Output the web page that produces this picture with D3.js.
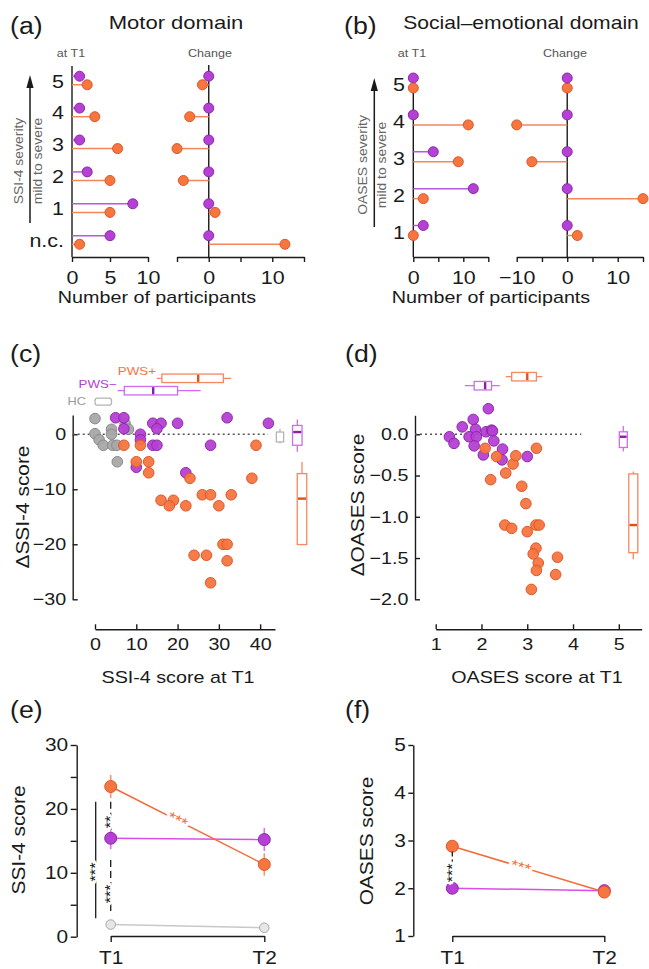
<!DOCTYPE html>
<html><head><meta charset="utf-8">
<script src="https://cdn.jsdelivr.net/npm/d3@7"></script>
<style>body{margin:0;background:#fff}svg{display:block}</style>
</head><body>
<svg id="chart" width="649" height="969"></svg>
<script>
// ---------------- DATA ----------------
// (a) Motor domain – SSI-4 severity categories
const sevCatsA = ["5","4","3","2","1","n.c."];
const motorT1_PWSminus = [1,1,1,2,8,5];
const motorT1_PWSplus  = [2,3,6,5,5,1];
const motorChange_PWSminus = [0,0,0,0,0,0];
const motorChange_PWSplus  = [-1,-3,-5,-4,1,12];
const ticksA1 = [0,5,10];
const ticksA2 = [-5,0,5,10,15];
const labeledA2 = [0,10];
// (b) Social-emotional domain – OASES severity categories
const sevCatsB = ["5","4","3","2","1"];
const socT1_PWSminus = [0,0,4,12,2];
const socT1_PWSplus  = [0,11,9,2,0];
const socChange_PWSminus = [0,0,0,0,0];
const socChange_PWSplus  = [0,-10,-7,15,2];
const ticksB1 = [0,5,10,15];
const labeledB1 = [0,10];
const ticksB2 = [-10,-5,0,5,10,15];
const labeledB2 = [-10,0,10];
// (c) SSI-4 at T1 vs change
const hcC_x = [0,0,1,2,4,4,4.3,5.3,5.4,7.3,8.1];
const hcC_y = [2.85,0.1,-1,-2,0.9,0,-2,-2,-5,1.9,0.9];
const pwsMinusC_x = [5,7,7,11,11,14,16,15,20,32,42,14,15,28,10,22];
const pwsMinusC_y = [3,3,1,0,-1,2,2,1,2,3,2,-2,-2,-2,-6,-7];
const pwsPlusC_x = [7,11,10,13,13,23,39,38,16,19,18,22,26,28,33,30,31,32,24,27,32,28];
const pwsPlusC_y = [-2,-2,-5,-5,-7,-8,-2,-8,-12,-12,-13,-13,-11,-11,-11,-13,-20,-20,-22,-22,-23,-27];
const ticksCx = [0,10,20,30,40];
const ticksCy = [0,-10,-20,-30];
// box stats [min,q1,median,q3,max]
const boxC_T1_HC = [0,0,2,4,4];
const boxC_T1_PWSminus = [5.5,7.1,14.1,20,25.6];
const boxC_T1_PWSplus = [15,16.2,25,31.1,33];
const boxC_d_HC = [-1.7,-1.4,-0.4,0.4,1];
const boxC_d_PWSminus = [-3.2,-2,0.4,1.6,2.7];
const boxC_d_PWSplus = [-20.05,-20.05,-11.7,-7.15,-5.05];
// (d) OASES at T1 vs change
const pwsMinusD_x = [1.3,1.4,1.58,1.82,1.87,1.73,1.89,1.84,2.04,2.1,2.15,2.22,2.24,2.27,2.46,2.45,3.0];
const pwsMinusD_y = [-0.03,-0.11,0.09,0.18,0.06,-0.03,-0.03,-0.14,-0.25,0.03,0.31,0.05,0.04,-0.08,-0.18,-0.31,-0.27];
const pwsPlusD_x = [2.08,2.33,2.2,2.53,2.69,2.75,3.2,2.88,2.97,2.51,2.66,3.0,3.19,3.26,3.19,3.13,3.24,3.2,3.66,3.62,3.09];
const pwsPlusD_y = [-0.17,-0.27,-0.55,-0.47,-0.36,-0.26,-0.17,-0.63,-0.84,-1.1,-1.14,-1.18,-1.1,-1.1,-1.38,-1.45,-1.56,-1.65,-1.49,-1.7,-1.88];
const ticksDx = [1,2,3,4,5];
const ticksDy = [0,-0.5,-1,-1.5,-2];
const boxD_T1_PWSminus = [1.64,1.84,2.08,2.22,2.4];
const boxD_T1_PWSplus = [2.53,2.66,3.0,3.2,3.33];
const boxD_d_PWSminus = [-0.21,-0.16,-0.03,0.03,0.1];
const boxD_d_PWSplus = [-1.515,-1.435,-1.1,-0.48,-0.45];
// (e) SSI-4 score T1/T2 mean ± SE
const timepoints = ["T1","T2"];
const ssiPWSplus = [23.5,11.3], ssiPWSplusErr = [1.8,1.75];
const ssiPWSminus = [15.4,15.2], ssiPWSminusErr = [1.7,1.8];
const ssiHC = [1.9,1.4], ssiHCErr = [0.4,0.3];
const ticksEy = [0,5,10,15,20,25,30];
// significance: vertical comparisons at T1 [from, to, label]
const sigE_long = [21.1,2.9,"***"];
const sigE_dash = [[21.1,16.7,"**"],[12.0,3.9,"***"]];
const sigE_time = "***";
// (f) OASES score T1/T2
const oasesPWSplus = [2.88,1.92];
const oasesPWSminus = [2.0,1.95];
const ticksFy = [1,2,3,4,5];
const sigF_dash = [[2.77,2.21,"***"]];
const sigF_time = "***";

// ---------------- STYLE ----------------
const FONT = "'Liberation Sans', Arial, Helvetica, sans-serif";
const SX = 1.16;
const INK = "#1a1a1a";
const OR = {fill:"#f6763f", stroke:"#e0562a", line:"#f4865c"};
const PU = {fill:"#b440d4", stroke:"#8e28ae", line:"#b85ad4"};
const GR = {fill:"#a8a8a8", stroke:"#8a8a8a", line:"#c4c4c4"};

const svg = d3.select("#chart");
const intFmt = d3.format("d");

function label(x, y, str, size, o = {}) {
  return svg.append("text")
    .attr("transform", `translate(${x},${y}) rotate(${o.rot || 0}) scale(${SX},1)`)
    .attr("font-size", size)
    .attr("font-family", FONT)
    .attr("font-weight", 400)
    .attr("text-anchor", o.anchor || "middle")
    .attr("fill", o.fill || INK)
    .text(str);
}
function styleAxis(g, size) {
  g.select(".domain").attr("stroke", INK).attr("stroke-width", 1.4);
  g.selectAll(".tick line").attr("stroke", INK).attr("stroke-width", 1.4);
  g.selectAll(".tick text").attr("font-size", size).attr("font-family", FONT).attr("font-weight", 400).attr("fill", INK)
    .attr("transform", `scale(${SX},1)`)
    .attr("x", function(){ const v = d3.select(this).attr("x"); return v === null ? 0 : (+v) / SX; });
}
function vline(x, y1, y2, col = INK, w = 1.4, dash = null) {
  const l = svg.append("line").attr("x1", x).attr("x2", x).attr("y1", y1).attr("y2", y2)
    .attr("stroke", col).attr("stroke-width", w);
  if (dash) l.attr("stroke-dasharray", dash);
  return l;
}
function dots(xs, ys, xv, yv, c, r) {
  svg.append("g").selectAll("circle").data(xv.map((x, i) => [x, yv[i]])).join("circle")
    .attr("cx", d => xs(d[0])).attr("cy", d => ys(d[1])).attr("r", r)
    .attr("fill", c.fill).attr("stroke", c.stroke).attr("stroke-width", 1).attr("fill-opacity", 0.95);
}
function lolli(xs, ys, cats, vals, off, c, r) {
  const g = svg.append("g");
  const d = cats.map((k, i) => ({k, v: vals[i]}));
  g.selectAll("line").data(d).join("line")
    .attr("x1", xs(0)).attr("x2", e => xs(e.v))
    .attr("y1", e => ys(e.k) + off).attr("y2", e => ys(e.k) + off)
    .attr("stroke", c.line).attr("stroke-width", 1.5);
  g.selectAll("circle").data(d).join("circle")
    .attr("cx", e => xs(e.v)).attr("cy", e => ys(e.k) + off).attr("r", r)
    .attr("fill", c.fill).attr("stroke", c.stroke).attr("stroke-width", 1);
}
function hbox(xs, yc, s, h, col, med, rounded) {
  const g = svg.append("g");
  g.append("line").attr("x1", xs(s[0])).attr("x2", xs(s[4])).attr("y1", yc).attr("y2", yc).attr("stroke", col).attr("stroke-width", 1.3);
  g.append("rect").attr("x", xs(s[1])).attr("width", xs(s[3]) - xs(s[1])).attr("y", yc - h/2).attr("height", h)
    .attr("rx", rounded ? 2.5 : 0)
    .attr("fill", "#fff").attr("stroke", col).attr("stroke-width", 1.3);
  if (med) g.append("line").attr("x1", xs(s[2])).attr("x2", xs(s[2])).attr("y1", yc - h/2 + 0.7).attr("y2", yc + h/2 - 0.7).attr("stroke", med).attr("stroke-width", 2.4);
}
function vbox(ys, xc, s, w, col, med) {
  const g = svg.append("g");
  g.append("line").attr("x1", xc).attr("x2", xc).attr("y1", ys(s[0])).attr("y2", ys(s[4])).attr("stroke", col).attr("stroke-width", 1.3);
  g.append("rect").attr("x", xc - w/2).attr("width", w).attr("y", ys(s[3])).attr("height", ys(s[1]) - ys(s[3]))
    .attr("fill", "#fff").attr("stroke", col).attr("stroke-width", 1.3);
  if (med) g.append("line").attr("x1", xc - w/2 + 0.7).attr("x2", xc + w/2 - 0.7).attr("y1", ys(s[2])).attr("y2", ys(s[2])).attr("stroke", med).attr("stroke-width", 2.4);
}
function severityArrow(x, yTop, yBot, t1, t2, yc) {
  vline(x, yTop + 10, yBot, INK, 1.5);
  svg.append("path").attr("d", `M${x},${yTop} L${x-3.6},${yTop+13} L${x+3.6},${yTop+13} Z`).attr("fill", INK);
  label(x - 7.5, yc, t1, 12, {rot: -90, fill: "#666"});
  label(x + 11.5, yc, t2, 12, {rot: -90, fill: "#666"});
}

// ---------------- PANEL (a) ----------------
label(10, 33.5, "(a)", 23, {anchor: "start"});
label(176, 28.5, "Motor domain", 19);
label(71, 57, "at T1", 10.8, {fill: "#555"});
label(210, 57, "Change", 10.8, {fill: "#555"});
const yA = d3.scalePoint().domain(sevCatsA).range([80.5, 240]);
const xA1 = d3.scaleLinear().domain([0, 10]).range([72, 148]);
const xA2 = d3.scaleLinear().domain([-5, 15]).range([177, 304]);
styleAxis(svg.append("g").attr("transform", "translate(0,257)")
  .call(d3.axisBottom(xA1).tickValues(ticksA1).tickFormat(intFmt).tickSize(5).tickSizeOuter(0).tickPadding(9)), 18.5);
styleAxis(svg.append("g").attr("transform", "translate(0,257)")
  .call(d3.axisBottom(xA2).tickValues(ticksA2).tickFormat(d => labeledA2.includes(d) ? intFmt(d) : "").tickSize(5).tickSizeOuter(0).tickPadding(9)), 18.5);
vline(xA1(0), 66, 257);
vline(xA2(0), 65, 257);
sevCatsA.forEach(c => label(64, yA(c) + 7, c, 18.5, {anchor: "end"}));
lolli(xA1, yA, sevCatsA, motorT1_PWSminus, -4.3, PU, 5);
lolli(xA1, yA, sevCatsA, motorT1_PWSplus, 4.3, OR, 5);
lolli(xA2, yA, sevCatsA, motorChange_PWSplus, 4.3, OR, 5);
lolli(xA2, yA, sevCatsA, motorChange_PWSminus, -4.3, PU, 5);
severityArrow(30, 75, 223, "SSI-4 severity", "mild to severe", 161);
label(157, 303, "Number of participants", 17);

// ---------------- PANEL (b) ----------------
label(344, 33.5, "(b)", 23, {anchor: "start"});
label(521, 28.5, "Social\u2013emotional domain", 18.2);
label(412, 57, "at T1", 10.8, {fill: "#555"});
label(565, 57, "Change", 10.8, {fill: "#555"});
const yB = d3.scalePoint().domain(sevCatsB).range([83, 230.5]);
const xB1 = d3.scaleLinear().domain([0, 15]).range([413.3, 488.3]);
const xB2 = d3.scaleLinear().domain([-10, 15]).range([516.7, 643]);
styleAxis(svg.append("g").attr("transform", "translate(0,257)")
  .call(d3.axisBottom(xB1).tickValues(ticksB1).tickFormat(d => labeledB1.includes(d) ? intFmt(d) : "").tickSize(5).tickSizeOuter(0).tickPadding(9)), 18.5);
styleAxis(svg.append("g").attr("transform", "translate(0,257)")
  .call(d3.axisBottom(xB2).tickValues(ticksB2).tickFormat(d => labeledB2.includes(d) ? intFmt(d) : "").tickSize(5).tickSizeOuter(0).tickPadding(9)), 18.5);
vline(xB1(0), 75, 257);
vline(xB2(0), 75, 257);
sevCatsB.forEach(c => label(405, yB(c) + 8, c, 18.5, {anchor: "end"}));
lolli(xB1, yB, sevCatsB, socT1_PWSminus, -5, PU, 5);
lolli(xB1, yB, sevCatsB, socT1_PWSplus, 5, OR, 5);
lolli(xB2, yB, sevCatsB, socChange_PWSplus, 5, OR, 5);
lolli(xB2, yB, sevCatsB, socChange_PWSminus, -5, PU, 5);
severityArrow(374.3, 78, 227, "OASES severity", "mild to severe", 165);
label(491, 303, "Number of participants", 17);

// ---------------- PANEL (c) ----------------
label(10, 362, "(c)", 23, {anchor: "start"});
const xC = d3.scaleLinear().domain([0, 43.6]).range([95, 275]);
const yC = d3.scaleLinear().domain([-30, 3.5]).range([599.3, 415]);
styleAxis(svg.append("g").attr("transform", "translate(72.7,0)")
  .call(d3.axisLeft(yC).tickValues(ticksCy).tickFormat(intFmt).tickSizeInner(-5).tickSizeOuter(0).tickPadding(6.5)), 17);
styleAxis(svg.append("g").attr("transform", "translate(0,629.3)")
  .call(d3.axisBottom(xC).tickValues(ticksCx).tickFormat(intFmt).tickSizeInner(-5).tickSizeOuter(0).tickPadding(9)), 17);
svg.append("line").attr("x1", 72.7).attr("x2", xC(41.9)).attr("y1", yC(0)).attr("y2", yC(0))
  .attr("stroke", "#555").attr("stroke-width", 1.6).attr("stroke-dasharray", "2,3");
dots(xC, yC, hcC_x, hcC_y, GR, 5.3);
dots(xC, yC, pwsMinusC_x, pwsMinusC_y, PU, 5.3);
dots(xC, yC, pwsPlusC_x, pwsPlusC_y, OR, 5.3);
const boxRowC = d3.scaleOrdinal().domain(["PWS+","PWS\u2212","HC"]).range([378.3, 390.7, 401.7]);
hbox(xC, boxRowC("PWS+"), boxC_T1_PWSplus, 8.5, "#f7875f", "#e2501c");
hbox(xC, boxRowC("PWS\u2212"), boxC_T1_PWSminus, 8.5, "#cf6bef", "#8a1fa8");
hbox(xC, boxRowC("HC"), boxC_T1_HC, 7, "#b4b4b4", null, true);
label(xC(boxC_T1_PWSplus[0]) - 1, 375, "PWS+", 11.5, {anchor: "end", fill: "#f4743b"});
label(xC(boxC_T1_PWSminus[0]) - 1, 388, "PWS\u2212", 11.5, {anchor: "end", fill: "#b440d4"});
label(xC(boxC_T1_HC[0]) - 9, 405, "HC", 11, {anchor: "end", fill: "#9a9a9a"});
const boxColC = d3.scaleOrdinal().domain(["HC","PWS\u2212","PWS+"]).range([280, 297.3, 302]);
vbox(yC, boxColC("HC"), boxC_d_HC, 7.3, "#b4b4b4", null);
vbox(yC, boxColC("PWS\u2212"), boxC_d_PWSminus, 9.5, "#cf6bef", "#8a1fa8");
vbox(yC, boxColC("PWS+"), boxC_d_PWSplus, 9.5, "#f7875f", "#e2501c");
label(29, 507, "\u0394SSI-4 score", 18, {rot: -90});
label(178, 683, "SSI-4 score at T1", 17);

// ---------------- PANEL (d) ----------------
label(345, 362, "(d)", 23, {anchor: "start"});
const xD = d3.scaleLinear().domain([1, 5.5]).range([435.7, 641.7]);
const yD = d3.scaleLinear().domain([-2, 0.23]).range([599.3, 415.3]);
styleAxis(svg.append("g").attr("transform", "translate(415,0)")
  .call(d3.axisLeft(yD).tickValues(ticksDy).tickFormat(d3.format(".1f")).tickSizeInner(-5).tickSizeOuter(0).tickPadding(6.5)), 17);
styleAxis(svg.append("g").attr("transform", "translate(0,629.3)")
  .call(d3.axisBottom(xD).tickValues(ticksDx).tickFormat(intFmt).tickSizeInner(-5).tickSizeOuter(0).tickPadding(9)), 17);
svg.append("line").attr("x1", 415).attr("x2", xD(4.18)).attr("y1", yD(0)).attr("y2", yD(0))
  .attr("stroke", "#555").attr("stroke-width", 1.6).attr("stroke-dasharray", "2,3");
dots(xD, yD, pwsMinusD_x, pwsMinusD_y, PU, 5.3);
dots(xD, yD, pwsPlusD_x, pwsPlusD_y, OR, 5.3);
const boxRowD = d3.scaleOrdinal().domain(["PWS+","PWS\u2212"]).range([376.7, 385.7]);
hbox(xD, boxRowD("PWS+"), boxD_T1_PWSplus, 8.5, "#f7875f", "#e2501c");
hbox(xD, boxRowD("PWS\u2212"), boxD_T1_PWSminus, 8.5, "#cf6bef", "#8a1fa8");
const boxColD = d3.scaleOrdinal().domain(["PWS\u2212","PWS+"]).range([623.3, 633.3]);
vbox(yD, boxColD("PWS\u2212"), boxD_d_PWSminus, 8, "#cf6bef", "#8a1fa8");
vbox(yD, boxColD("PWS+"), boxD_d_PWSplus, 9, "#f7875f", "#e2501c");
label(363.5, 505, "\u0394OASES score", 18, {rot: -90});
label(537, 683, "OASES score at T1", 17);

// ---------------- PANEL (e) ----------------
label(10, 718, "(e)", 23, {anchor: "start"});
const xE = d3.scalePoint().domain(timepoints).range([110.7, 264.3]);
const yE = d3.scaleLinear().domain([0, 30]).range([936.7, 745]);
styleAxis(svg.append("g").attr("transform", "translate(76.7,0)")
  .call(d3.axisLeft(yE).tickValues(ticksEy).tickFormat(d => d % 10 === 0 ? intFmt(d) : "").tickSize(6).tickSizeOuter(0).tickPadding(2.5)), 18);
styleAxis(svg.append("g").attr("transform", "translate(0,936)")
  .call(d3.axisBottom(xE).tickSize(6).tickSizeOuter(0).tickPadding(9)), 18);
label(25, 840, "SSI-4 score", 18, {rot: -90});

function series(xs, ys, vals, errs, lineCol, errCol, c, r) {
  const g = svg.append("g");
  const d = timepoints.map((t, i) => ({t, v: vals[i], e: errs ? errs[i] : 0}));
  g.append("path").datum(d).attr("d", d3.line().x(e => xs(e.t)).y(e => ys(e.v)))
    .attr("fill", "none").attr("stroke", lineCol).attr("stroke-width", 1.5);
  if (errs) g.selectAll("line.err").data(d).join("line").attr("class", "err")
    .attr("x1", e => xs(e.t)).attr("x2", e => xs(e.t))
    .attr("y1", e => ys(e.v - e.e)).attr("y2", e => ys(e.v + e.e))
    .attr("stroke", errCol).attr("stroke-width", 1.6);
  g.selectAll("circle").data(d).join("circle")
    .attr("cx", e => xs(e.t)).attr("cy", e => ys(e.v)).attr("r", r)
    .attr("fill", c.fill).attr("stroke", c.stroke).attr("stroke-width", 1);
}
series(xE, yE, ssiHC, ssiHCErr, "#c8c8c8", "#c8c8c8", {fill: "#e6e6e6", stroke: "#a8a8a8"}, 4.8);
series(xE, yE, ssiPWSminus, ssiPWSminusErr, "#d94ee9", "#da70ea", PU, 6);
series(xE, yE, ssiPWSplus, ssiPWSplusErr, "#f26b38", "#f7956c", OR, 6);

function starsV(x, y, str) {
  label(x + 4.5, y, str, 14, {rot: -90, fill: "#111"}).attr("stroke", "#fff").attr("stroke-width", 4)
    .attr("paint-order", "stroke");
}
function starsAlong(xs, ys, vals, frac, str) {
  const x0 = xs(timepoints[0]), x1 = xs(timepoints[1]), y0 = ys(vals[0]), y1 = ys(vals[1]);
  const ang = Math.atan2(y1 - y0, x1 - x0) * 180 / Math.PI;
  label(x0 + (x1 - x0) * frac, y0 + (y1 - y0) * frac + 5.5, str, 15, {rot: ang, fill: "#f26b38"})
    .attr("stroke", "#fff").attr("stroke-width", 4).attr("paint-order", "stroke");
}
// long comparison line PWS+ vs HC
vline(xE("T1") - 15, yE(sigE_long[0]), yE(sigE_long[1]), INK, 1.3);
starsV(xE("T1") - 15, (yE(sigE_long[0]) + yE(sigE_long[1])) / 2 + 12, sigE_long[2]);
sigE_dash.forEach(s => {
  vline(xE("T1"), yE(s[0]), yE(s[1]), INK, 1.3, "7,4");
  starsV(xE("T1"), (yE(s[0]) + yE(s[1])) / 2 + (s[2].length === 2 ? 6 : 8), s[2]);
});
starsAlong(xE, yE, ssiPWSplus, 0.42, sigE_time);

// ---------------- PANEL (f) ----------------
label(345, 718, "(f)", 23, {anchor: "start"});
const xF = d3.scalePoint().domain(timepoints).range([452.3, 604.3]);
const yF = d3.scaleLinear().domain([1, 5]).range([936, 745]);
styleAxis(svg.append("g").attr("transform", "translate(413.3,0)")
  .call(d3.axisLeft(yF).tickValues(ticksFy).tickFormat(intFmt).tickSize(5).tickSizeOuter(0).tickPadding(2.5)), 18);
styleAxis(svg.append("g").attr("transform", "translate(0,936)")
  .call(d3.axisBottom(xF).tickSize(6).tickSizeOuter(0).tickPadding(9)), 18);
label(373.3, 841, "OASES score", 18, {rot: -90});
series(xF, yF, oasesPWSminus, null, "#d94ee9", null, PU, 6);
series(xF, yF, oasesPWSplus, null, "#f26b38", null, OR, 6);
sigF_dash.forEach(s => {
  vline(xF("T1"), yF(s[0]), yF(s[1]), INK, 1.3, "5,3");
  starsV(xF("T1"), (yF(s[0]) + yF(s[1])) / 2 + 8, s[2]);
});
starsAlong(xF, yF, oasesPWSplus, 0.44, sigF_time);
</script>
</body></html>
